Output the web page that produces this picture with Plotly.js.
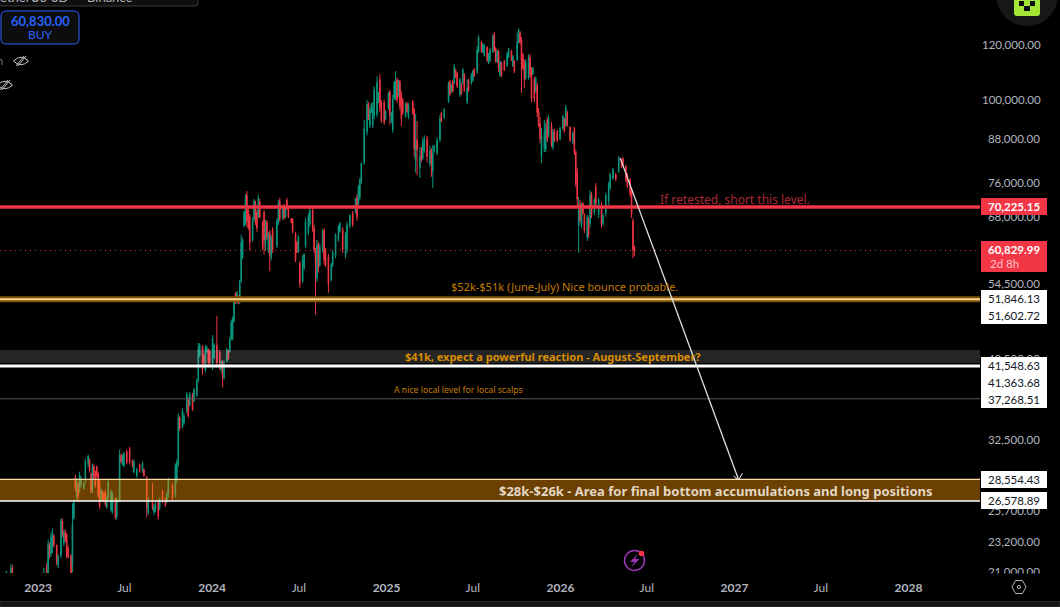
<!DOCTYPE html>
<html><head><meta charset="utf-8">
<script src="https://cdn.plot.ly/plotly-3.0.1.min.js"></script>
<style>html,body{margin:0;padding:0;background:#000;overflow:hidden}#chart{width:1060px;height:607px}</style>
</head><body><div id="chart"></div>
<script>
// 3-day bar number counted from 1 Jan 2023
const barIndex=[
-23,-22,-19,-18,4,6,7,8,9,10,11,13,14,16,17,18,19,20,21,23,
24,25,26,27,28,29,30,32,33,35,36,37,38,39,40,41,42,43,44,45,
46,47,48,49,51,52,54,55,57,58,59,60,62,64,66,67,69,71,73,74,
76,77,80,81,82,84,85,87,89,90,91,94,96,97,98,99,101,102,104,105,
106,108,109,111,112,113,115,116,117,118,119,120,122,123,125,127,128,129,130,132,
133,134,135,136,137,138,139,140,141,142,143,144,145,146,147,148,150,151,152,153,
154,155,157,158,159,160,161,162,163,164,167,168,169,171,172,173,174,175,177,178,
180,181,182,183,185,186,187,189,190,192,193,194,195,196,197,199,200,201,203,205,
206,208,210,211,213,215,216,218,220,222,223,224,225,226,228,230,231,232,233,234,
235,237,238,239,240,242,243,245,246,247,248,249,250,251,252,253,254,255,257,258,
259,262,263,264,265,267,268,269,270,272,274,275,276,277,279,281,282,284,287,288,
289,290,291,292,293,295,296,297,298,300,301,303,304,305,307,308,310,311,312,314,
315,316,318,319,320,321,322,323,324,326,328,329,331,332,333,335,336,337,338,339,
340,341,343,344,345,346,347,348,349,350,351,352,354,355,356,357,359,360,361,363,
365,367,368,369,370,372,374,375,376,377,378,379,380,381,382,384,385,386,387,389,
390,392,394,395,397,399,400,402,404,406,408,409,411,412,414,415,416,417];
const highs=[
21000,21100,21600,21500,21300,21700,23400,23200,23900,24300,23800,23000,22300,25100,25100,24200,24200,23900,22900,22300,
26400,26700,29000,28700,28300,29300,28900,28300,30600,31000,30600,29200,30100,30000,29400,29900,29300,28500,27700,27600,
27400,27600,27100,28500,27600,27400,26900,26900,31500,31100,31000,31300,31500,31800,30500,30500,29700,30100,30300,29600,
28900,26900,28200,26300,26500,26700,26900,27600,26900,27400,28700,28200,30100,30500,35500,35200,36100,35500,38100,37500,
38100,38000,38600,39800,44800,44800,44500,43300,44500,44400,44000,43800,46000,44800,49000,43800,42400,42300,42300,44100,
43800,45700,48400,48900,51900,53000,53200,52500,55200,64100,63400,69300,73300,74000,70000,68600,67900,72100,71700,69500,
73100,72100,67100,69500,67300,67300,64700,65100,64000,65700,67700,71900,72400,70200,70900,70200,72400,70000,67700,67700,
64700,62800,64000,58700,59900,60300,67700,68800,70000,70000,66200,61300,63000,62600,62200,65300,65500,61300,60100,58400,
60900,64400,66200,66900,65700,64700,66900,68600,69300,72400,73300,75500,77300,81400,93600,100000,99300,97700,99000,99300,
104700,108200,102700,108900,100000,100000,96800,102700,103400,96200,101700,106500,110000,107600,106900,106900,103100,100700,99300,99300,
99000,100000,97400,95500,93300,85600,85600,88200,89000,88800,85900,85300,86200,86200,88400,95200,96200,97400,106200,106900,
105500,106900,112600,111000,109700,107600,105900,111100,109300,106900,107200,109300,110400,111100,119500,123900,121500,120700,120300,119500,
116800,118700,124300,125200,119100,118000,118000,114100,113400,114100,117200,118800,118000,116000,114100,124900,126800,125600,123100,116800,
114400,114400,116300,116300,111500,111500,108000,108000,105900,97400,94500,91200,93600,92700,94500,95200,93000,90900,90900,90600,
91500,95200,94300,98400,96500,91800,90000,91500,84800,80000,72600,71900,71200,71400,68800,68400,68000,74300,73800,72400,
76000,72400,71400,68800,73600,76300,78600,79900,78600,83100,82300,82800,80700,78600,77300,75000,67700,61800];
const lows=[
20000,20300,20500,18000,17000,20400,20500,22000,22100,22400,22800,21500,21300,22000,23600,22900,23200,22000,22000,19600,
21000,25000,27400,26700,26700,27300,27800,27600,28200,29700,29200,27300,27300,28500,27800,28700,26900,25900,26500,26500,
26500,26100,25900,26700,25600,25500,25000,25000,26500,30100,29900,29700,30000,30000,29700,29100,28700,29200,29200,28800,
25200,25400,25800,25400,25600,25000,25800,26400,26100,26400,26900,26700,26900,28200,29800,33500,33800,34200,35500,35000,
36300,35800,36900,37500,39400,42800,40300,41700,40700,43300,41700,41700,41000,42500,41700,41000,40600,38700,39700,42000,
42400,43400,45200,45200,47900,51000,51000,50900,51000,54700,59100,65700,66200,65700,65100,60900,62600,66900,66200,64700,
67700,67700,60900,60000,60900,63000,60300,56800,58900,60300,61300,66200,66900,67300,67300,67700,69500,67700,66500,64300,
58500,60300,60300,53800,54700,57000,61300,64000,65700,64700,60300,49200,54800,56500,57600,60300,58000,57600,52900,54900,
57600,59300,62600,64500,60300,59300,60300,65500,65700,68800,67000,70700,71900,75800,80700,89000,93600,91200,95800,91200,
93900,94500,99000,96200,92700,92100,93600,96800,92100,92700,89700,100000,100000,99000,101000,96800,91800,95200,94300,95800,
93900,95200,82800,78700,78000,77300,81400,82000,84000,81400,80200,77600,74800,84000,83400,87000,93000,93900,99000,101400,
102400,102400,105500,107500,104100,101000,101700,105200,102700,98700,102700,105200,106200,107900,109000,116800,116800,116800,115400,113400,
112600,113400,116800,117200,113000,113000,109700,107900,107900,110000,111500,114900,113700,111500,109300,113700,120700,120300,102400,110400,
104100,106900,106900,107600,99300,108600,99300,102400,94500,91500,86700,81200,84200,84200,87000,88400,85600,84800,87000,87000,
87600,90600,89700,91500,91500,87000,86400,83400,75000,70200,60300,66600,65500,68400,64400,62800,63400,65700,67700,68400,
70200,67700,65500,66000,68000,70700,74300,76800,76500,78600,79900,80200,76300,74800,72600,67700,59300,59700];
const opens=[
20400,20600,20700,21300,17500,21400,20800,23000,22300,22800,23700,23000,21500,22200,24900,23100,24000,23800,22800,22200,
21500,25100,28700,27000,28000,27700,28100,27700,28500,30000,30400,29100,27600,29800,29300,29800,29100,28300,26700,27400,
27200,27400,26100,26900,25800,25700,26700,25200,26500,30900,30200,29900,31300,31600,30400,29300,28900,30000,29400,29500,
28700,25600,26500,25600,25800,26500,26000,27400,26800,26500,27200,28000,27200,28500,30000,35000,34000,34400,35800,37200,
36500,37800,37000,37700,39700,43000,44300,43000,41000,43500,43900,43600,41500,42700,44500,43500,41000,42100,40000,42200,
43600,43500,45400,45500,48200,52800,51300,52300,51300,55000,59500,66000,67000,73000,69500,68000,63000,67300,71000,69000,
68000,71500,66800,69000,62000,66800,60800,64500,59500,65200,61800,66800,71500,67800,70400,68000,71800,69800,67500,67500,
64300,62500,60600,58300,55000,57400,61800,64500,66300,69500,65500,60800,55500,62000,58000,60800,65000,60800,59500,55300,
58000,59800,63000,64800,65200,59800,61000,66000,68800,69000,72500,71000,72500,76300,81300,90000,98800,92000,96000,92000,
95000,95500,99400,107000,99000,99000,94000,97300,102500,93000,90500,100500,100500,107000,101500,106300,102000,100000,94800,98800,
94500,99500,97000,82000,87600,80000,85000,82500,84500,88000,81000,84800,79000,84300,84000,87700,95800,94300,99500,106200,
102800,106300,106000,110500,109200,101800,105300,105800,108800,99500,106800,105700,106700,110700,110000,117500,121000,117200,116000,119000,
113000,113900,117300,124500,118700,113500,117500,108500,113000,113700,112000,115300,117500,112000,113700,114200,121000,125000,122000,116000,
113000,107500,107500,115000,110500,109000,107000,103000,105000,96500,92500,83000,85000,85000,93500,89000,92000,85500,90300,90200,
88000,91000,93800,92000,96000,91300,86800,91000,84000,79000,66000,71000,66000,71000,68400,63500,67500,66500,73200,69000,
75000,68500,70800,66500,68800,71500,74800,77300,78200,79000,81800,82400,80300,78200,76800,74500,67000,61500];
const closes=[
20800,20900,21300,20000,21000,20600,23000,22300,23600,24000,23000,21700,22200,24900,23800,24000,23400,22200,22100,20400,
24600,26400,27800,28300,27000,29000,28700,28200,30300,30800,29400,27500,29800,28800,28000,28900,27100,26100,27500,26700,
26700,26300,26900,28300,27400,27200,25200,26700,31000,30300,30800,31100,30200,30200,29800,30300,29500,29300,30100,28900,
26000,26600,26000,26100,26300,25300,26700,26600,26200,27200,28400,26900,29900,30200,35000,33800,35800,35200,37800,35200,
37900,36000,38400,39600,44000,44500,41000,42000,44200,44100,42000,42000,45500,44500,42000,42000,42100,40000,41800,43900,
42500,45300,48000,48500,51500,51300,52900,51100,54900,62500,63000,69000,72500,67000,65500,62500,67000,71500,67500,65500,
72500,68000,61500,63000,66000,63500,64200,60000,63500,61000,67000,71000,67500,69800,67800,69900,70000,68000,66700,64800,
59000,60500,63600,54500,59000,60000,67000,68200,69500,65500,61000,58500,62000,57500,61500,64800,59000,58000,54500,58000,
60500,64000,65800,66500,61000,64200,66200,68300,66300,72000,68000,75000,76800,81000,91000,98500,94000,96800,98500,97000,
103500,106000,102000,97500,93500,93000,96300,102000,95000,95800,100000,106000,106500,100000,106200,98000,94000,95800,98800,96300,
98500,95800,85000,87000,84800,83000,82000,87000,88000,83000,84500,81000,84000,85800,87500,94000,93300,97000,105500,102000,
105000,103000,111800,108000,104800,107000,102300,110500,103500,104000,103300,108800,110000,108300,118000,123000,117500,120300,119800,114000,
116400,118000,123500,118000,113700,117500,111000,113500,108500,110500,116600,118300,114200,115500,110000,121000,126000,121000,114000,111000,
107000,113500,115500,108500,100500,111000,100500,107300,96000,92000,88000,88500,90000,91000,88000,94000,86500,90000,87500,87500,
91000,94700,90200,97500,92000,87600,89600,84000,76000,72000,69500,67200,70500,68800,65000,67800,64000,73000,68500,72000,
71000,71800,66300,68300,73000,75600,78000,79500,77000,82500,80400,80800,76800,75200,73200,68500,61000,60830];

const priceTicks=[120000,100000,88000,76000,68000,54500,42500,32500,25700,23200,21000];
const priceTickText=['120,000.00','100,000.00','\u00a0\u00a088,000.00','\u00a0\u00a076,000.00','\u00a0\u00a068,000.00','\u00a0\u00a054,500.00','\u00a0\u00a042,500.00','\u00a0\u00a032,500.00','\u00a0\u00a025,700.00','\u00a0\u00a023,200.00','\u00a0\u00a021,000.00'];
const timeTicks=['2023-01-01','2023-07-01','2024-01-01','2024-07-01','2025-01-01','2025-07-01','2026-01-01','2026-07-01','2027-01-01','2027-07-01','2028-01-01'];
const timeTickText=['<b>2023</b>','Jul','<b>2024</b>','Jul','<b>2025</b>','Jul','<b>2026</b>','Jul','<b>2027</b>','Jul','<b>2028</b>'];

const lastPrice=60829.99, resistance=70225.15, midLevelA=51846.13, midLevelB=51602.72;
const grayTop=43800, grayBottom=41950, whiteLevel=41548.63, scalpLevel=37268.51, zoneTop=28554.43, zoneBottom=26578.89;
const arrowStart=['2026-05-06',82600], arrowEnd=['2027-01-09',28600];

const UP='#089981', DOWN='#f23645', AX='#b2b5be', F='Lato, "Noto Sans", sans-serif', T='"Noto Sans", Lato, sans-serif';
const W=980,H=573;
const px=x=>x/W, py=y=>1-y/H;
const dayMs=86400000;
const dates=barIndex.map(k=>new Date(Date.UTC(2023,0,1)+k*3*dayMs).toISOString().slice(0,10));

const trace={type:'candlestick',x:dates,open:opens,high:highs,low:lows,close:closes,
  increasing:{line:{color:UP,width:1},fillcolor:UP},decreasing:{line:{color:DOWN,width:1},fillcolor:DOWN},
  whiskerwidth:0,hoverinfo:'skip',showlegend:false};

// helpers for decoration drawn in page pixels
const P=(x,y)=>px(x)+','+py(y);
const rect=(x0,y0,x1,y1,fill,line)=>({type:'rect',xref:'paper',yref:'paper',layer:'above',x0:px(x0),x1:px(x1),y0:py(y0),y1:py(y1),fillcolor:fill,line:line||{width:0}});
const path=(d,line,fill)=>({type:'path',xref:'paper',yref:'paper',layer:'above',path:d,line:line,fillcolor:fill||'rgba(0,0,0,0)'});
const round=(x0,y0,x1,y1,r)=>`M${P(x0+r,y0)} L${P(x1-r,y0)} Q${P(x1,y0)} ${P(x1,y0+r)} L${P(x1,y1-r)} Q${P(x1,y1)} ${P(x1-r,y1)} L${P(x0+r,y1)} Q${P(x0,y1)} ${P(x0,y1-r)} L${P(x0,y0+r)} Q${P(x0,y0)} ${P(x0+r,y0)} Z`;
const circle=(cx,cy,r,fill,line)=>Object.assign(rect(cx-r,cy-r,cx+r,cy+r,fill,line),{type:'circle'});
const eye=(cx,cy)=>[
  path(`M${P(cx-7.5,cy)} Q${P(cx,cy-7.5)} ${P(cx+7.5,cy)} Q${P(cx,cy+7.5)} ${P(cx-7.5,cy)} Z`,{color:'#c8c8c8',width:1}),
  path(`M${P(cx-3,cy+5)} L${P(cx+5,cy-5)}`,{color:'#c8c8c8',width:1}),
  path(`M${P(cx-5,cy+5)} L${P(cx+3,cy-5)}`,{color:'#c8c8c8',width:1})];
const hline=(v,color,width,dash)=>({type:'line',xref:'paper',yref:'y',layer:'above',x0:0,x1:1,y0:v,y1:v,line:{color,width,dash:dash||'solid'}});
const band=(a,b,fill)=>({type:'rect',xref:'paper',yref:'y',layer:'above',x0:0,x1:1,y0:a,y1:b,fillcolor:fill,line:{width:0}});

const shapes=[
  hline(lastPrice,'rgba(242,54,69,0.9)',1,'1px,4px'),
  band(grayTop,grayBottom,'rgba(255,255,255,0.145)'),
  band(zoneTop,zoneBottom,'rgba(255,152,0,0.42)'),
  hline(zoneTop,'#ffdca8',1.2),
  hline(zoneBottom,'#ffffff',1.5),
  hline(scalpLevel,'#555555',1),
  hline(whiteLevel,'#ffffff',3),
  hline(51800,'#7d4f05',6),
  hline(51800,'#ffd48f',2),
  hline(resistance,DOWN,3.5),
  {type:'line',xref:'x',yref:'y',layer:'above',x0:arrowStart[0],y0:arrowStart[1],x1:arrowEnd[0],y1:arrowEnd[1],line:{color:'#e0e0e0',width:1.3}},
  path(`M${P(733.5,476)} L${P(738.5,480)} L${P(742.5,473)}`,{color:'#e0e0e0',width:1}),
  // cover for the bottom of the price scale
  rect(981,573.5,1060,584,'#000000'),
  // price labels
  rect(981,198,1047,215,DOWN),
  rect(981,241,1047,272,DOWN),
  rect(981,290,1047,324,'#ffffff'),
  rect(981,357,1047,408,'#ffffff'),
  rect(981,471,1047,488,'#ffffff'),
  rect(981,492,1047,509,'#ffffff'),
  // frame pieces of the app
  rect(0,601.5,1060,607,'#151515',{color:'#2a2a2a',width:1}),
  path(round(-5,-10,198,6,3),{color:'#3a3a3a',width:1},'#0f0f0f'),
  path(round(1,11,79,44,5),{color:'#2962ff',width:1},'#0d0d0d'),
  ...eye(21,61),...eye(5,85),
  // top right badge
  circle(1027,-5,31,'#171717'),
  path(round(1014,-4,1040,16,3),{width:0},'#a3e635'),
  rect(1019,1,1024,6,'#0b0b0b'),rect(1030,1,1035,6,'#0b0b0b'),rect(1024,6,1030,11,'#0b0b0b'),
  // settings icon
  path(`M${P(1012,587)} L${P(1015.5,580.5)} L${P(1022.5,580.5)} L${P(1026,587)} L${P(1022.5,593.5)} L${P(1015.5,593.5)} Z`,{color:AX,width:1}),
  circle(1019,587,1.6,'rgba(0,0,0,0)',{color:AX,width:1}),
  // lightning icon
  circle(634.5,560.5,10,'#000000',{color:'#9c36b5',width:1.5}),
  path(`M${P(638,553.5)} L${P(630,562)} L${P(634.5,562)} L${P(631,567.5)} L${P(639.5,559)} L${P(635,559)} Z`,{width:0},'#9c36b5'),
  circle(641.5,553.5,2.8,DOWN)
];

const note=(x,y,text,size,color,extra)=>Object.assign({xref:'paper',yref:'paper',x:px(x),y:py(y),text,showarrow:false,xanchor:'center',yanchor:'middle',
  font:{family:F,size,color},bgcolor:'rgba(0,0,0,0)'},extra||{});
const tn=(x,y,text,size,color)=>{const a=note(x,y,text,size,color);a.font.family=T;return a;};
const annotations=[
  tn(734.5,199,'If retested, short this level.',12,'#ab2733'),
  tn(564,286,'$52k-$51k (June-July) Nice bounce probable.',11,'#c47c00'),
  tn(553,356,'<b>$41k, expect a powerful reaction - August-September?</b>',11,'#d98c00'),
  tn(458,390,'A nice local level for local scalps',8.7,'#c47c00'),
  tn(716,491,'<b>$28k-$26k - Area for final bottom accumulations and long positions</b>',13,'#e3d7c4'),
  note(1014,206.5,'<b>70,225.15</b>',11.5,'#ffffff'),
  note(1014,249,'<b>60,829.99</b>',11.5,'#ffffff'),
  note(1004,263,'2d 8h',11.5,'#ffc4c9'),
  note(1014,298,'51,846.13',11.5,'#131722'),
  note(1014,315,'51,602.72',11.5,'#131722'),
  note(1014,365,'41,548.63',11.5,'#131722'),
  note(1014,382,'41,363.68',11.5,'#131722'),
  note(1014,399,'37,268.51',11.5,'#131722'),
  note(1014,479.5,'28,554.43',11.5,'#131722'),
  note(1014,500,'26,578.89',11.5,'#131722'),
  note(40,21,'<b>60,830.00</b>',13,'#2962ff'),
  note(40,35,'BUY',12,'#2962ff'),
  note(0,61,'n',11,'#777777'),
  note(20,-3,'TetherUS',13,'#b2b5be'),
  note(60,-3,'3D',13,'#b2b5be'),
  note(109,-3,'Binance',13,'#b2b5be')
];

const layout={width:1060,height:607,paper_bgcolor:'#000',plot_bgcolor:'#000',
  margin:{l:0,r:80,t:0,b:34,pad:0},showlegend:false,boxgap:0.4,dragmode:false,
  font:{family:F,color:AX},
  xaxis:{type:'date',range:['2022-10-13','2028-05-30'],rangeslider:{visible:false},showgrid:false,zeroline:false,showline:false,
    tickmode:'array',tickvals:timeTicks,ticktext:timeTickText,ticks:'',tickfont:{family:F,size:12,color:AX},ticklabelstandoff:6},
  yaxis:{type:'log',side:'right',range:[4.3214,5.1435],showgrid:false,zeroline:false,showline:false,
    tickmode:'array',tickvals:priceTicks,ticktext:priceTickText,ticks:'',tickfont:{family:F,size:11.5,color:AX},ticklabelstandoff:1},
  shapes,annotations};
Plotly.newPlot('chart',[trace],layout,{displayModeBar:false,staticPlot:true});
</script></body></html>
